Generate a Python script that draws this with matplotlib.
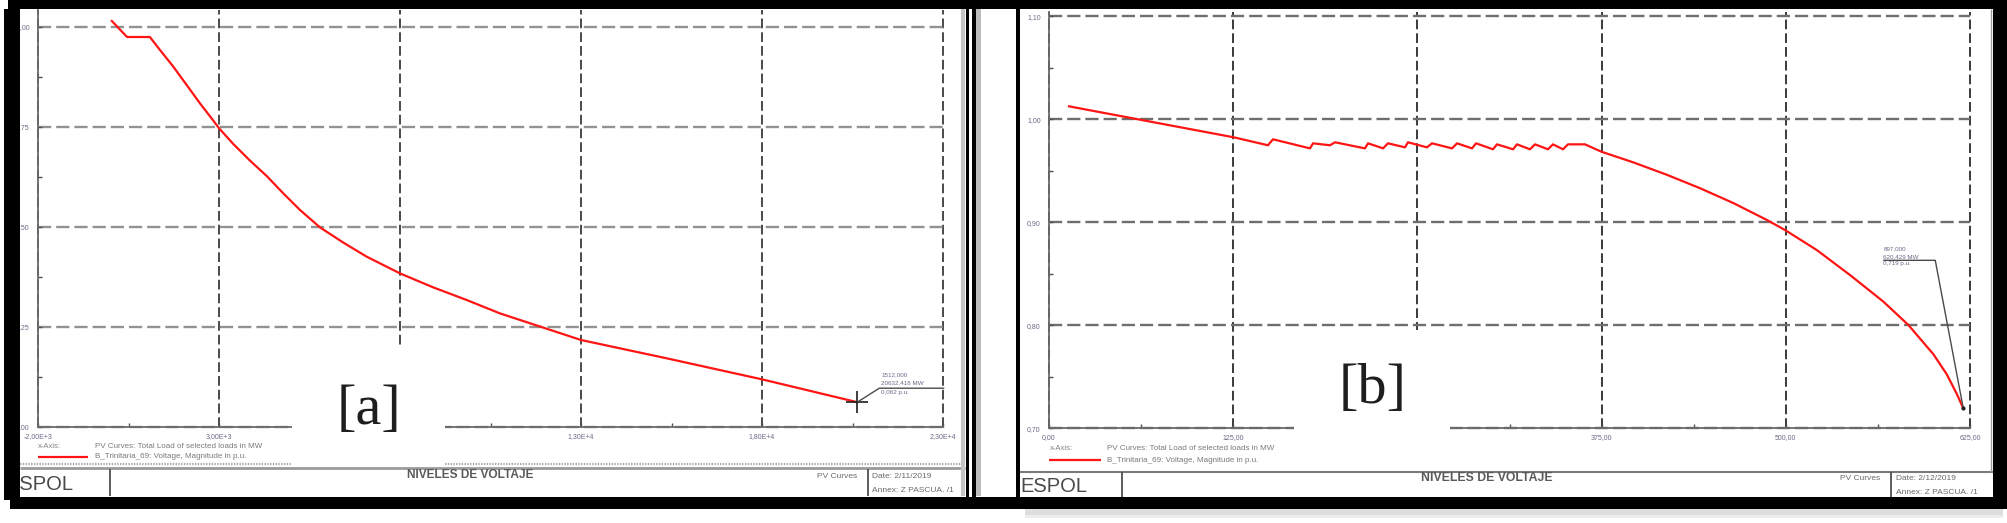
import matplotlib
matplotlib.use("Agg")
import matplotlib.pyplot as plt
from matplotlib.patches import Rectangle
from matplotlib.ticker import FixedLocator

plt.rcParams['font.family'] = ['Liberation Sans', 'DejaVu Sans']
plt.rcParams['lines.scale_dashes'] = False

W, H = 2007, 523

# ---------------- data ----------------
# Panel [a]: PV curve, total load (MW) vs voltage (p.u.)
load_a = [40, 460, 1090, 1370, 1738, 2107, 2475, 2843, 3000, 3395, 3856, 4317,
          4777, 5238, 5790, 6434, 7080, 8000, 8920, 9842, 10762, 13000,
          15367, 18008, 20632.418]
volt_a = [1.015, 0.975, 0.975, 0.9425, 0.9008, 0.855, 0.809, 0.766, 0.747, 0.7075,
          0.666, 0.6275, 0.584, 0.5425, 0.499, 0.461, 0.4258, 0.384, 0.349, 0.3175,
          0.284, 0.2175, 0.1717, 0.119, 0.062]

# Panel [b]
load_b = [13.6, 125.5, 148.6, 152.0, 177.1, 179.2, 190.7, 194.1, 214.4, 216.5,
          226.7, 230.0, 241.6, 243.6, 256.5, 259.9, 273.5, 276.9, 287.1, 289.8,
          301.3, 304.0, 314.9, 317.6, 326.4, 329.8, 338.6, 342.0, 348.8, 352.2,
          363.7, 375.0, 396.5, 419.2, 441.8, 464.4, 487.0, 499.5, 521.0, 543.6,
          566.2, 583.2, 600.1, 609.2, 616.0, 620.429]
volt_b = [1.0126, 0.9825, 0.9748, 0.9806, 0.9718, 0.9767, 0.9748, 0.9777, 0.9718, 0.9767,
          0.9718, 0.9767, 0.9728, 0.9777, 0.9728, 0.9767, 0.9718, 0.9767, 0.9718, 0.9767,
          0.9709, 0.9757, 0.9709, 0.9757, 0.9709, 0.9757, 0.9709, 0.9757, 0.9709, 0.9757,
          0.9757, 0.9685, 0.9582, 0.9462, 0.9331, 0.9187, 0.9024, 0.8925, 0.8731, 0.8488,
          0.8230, 0.8003, 0.7720, 0.7525, 0.7335, 0.7194]

xticks_a = [-2000, 3000, 8000, 13000, 18000, 23000]
xlabels_a = ['-2,00E+3', '3,00E+3', '8,00E+3', '1,30E+4', '1,80E+4', '2,30E+4']
yticks_a = [0.0, 0.25, 0.50, 0.75, 1.00]
ylabels_a = ['0,00', '0,25', '0,50', '0,75', '1,00']

xticks_b = [0, 125, 250, 375, 500, 625]
xlabels_b = ['0,00', '125,00', '250,00', '375,00', '500,00', '625,00']
yticks_b = [0.70, 0.80, 0.90, 1.00, 1.10]
ylabels_b = ['0,70', '0,80', '0,90', '1,00', '1,10']

annot_a = ['1512,000', '20632,418 MW', '0,062 p.u.']
annot_b = ['897,000', '620,429 MW', '0,719 p.u.']

legend_x = 'PV Curves: Total Load of selected loads in MW'
legend_y = 'B_Trinitaria_69: Voltage, Magnitude in p.u.'

# ---------------- figure ----------------
fig = plt.figure(figsize=(W / 100, H / 100), dpi=100)
fig.patch.set_facecolor('white')


def add_px_axes(l, t, r, b):
    return fig.add_axes([l / W, 1 - b / H, (r - l) / W, (b - t) / H])


def mids(t):
    return [(p + q) / 2 for p, q in zip(t[:-1], t[1:])]


def style(ax, xt, xl, yt, yl, xlim, ylim, hcol, vcol):
    ax.set_xlim(*xlim)
    ax.set_ylim(*ylim)
    ax.set_xticks(xt)
    ax.set_xticklabels(xl)
    ax.set_yticks(yt)
    ax.set_yticklabels(yl)
    ax.xaxis.set_minor_locator(FixedLocator(mids(xt)))
    ax.yaxis.set_minor_locator(FixedLocator(mids(yt)))
    for s in ['top', 'right']:
        ax.spines[s].set_visible(False)
    for s in ['left', 'bottom']:
        ax.spines[s].set_color('#6a6a6a')
        ax.spines[s].set_linewidth(1.3)
    ax.tick_params(which='both', direction='in', color='#505050', width=1)
    ax.tick_params(which='major', length=3, labelsize=5, labelcolor='#6a6a88')
    ax.tick_params(which='minor', length=3)
    ax.tick_params(axis='x', pad=4)
    ax.tick_params(axis='y', pad=6)
    ax.yaxis.grid(True, which='major', color=hcol, lw=1.7, linestyle=(0, (9.5, 3.6)))
    ax.xaxis.grid(True, which='major', color=vcol, lw=1.4, linestyle=(0, (7, 2.9)))
    ax.set_axisbelow(True)
    for gl in ax.get_xgridlines() + ax.get_ygridlines():
        gl.set_clip_on(False)


ax_a = add_px_axes(38, 10, 943, 427)
style(ax_a, xticks_a, xlabels_a, yticks_a, ylabels_a, (-2000, 23000), (0, 1.0425),
      '#929292', '#4a4a4a')
ax_a.plot(load_a, volt_a, color='#ff1414', lw=1.6, solid_joinstyle='round', zorder=3)

ax_b = add_px_axes(1049, 12, 1970, 428.3)
style(ax_b, xticks_b, xlabels_b, yticks_b, ylabels_b, (0, 625), (0.70, 1.1042),
      '#6e6e6e', '#3a3a3a')
ax_b.plot(load_b, volt_b, color='#ff1414', lw=1.6, solid_joinstyle='round', zorder=3)

# ---------------- overlay (pixel coordinates, y downward) ----------------
ov = fig.add_axes([0, 0, 1, 1], zorder=10)
ov.set_xlim(0, W)
ov.set_ylim(H, 0)
ov.axis('off')
ov.patch.set_alpha(0)


def rect(x0, y0, x1, y1, color, z=1, alpha=1.0):
    ov.add_patch(Rectangle((x0, y0), x1 - x0, y1 - y0, facecolor=color,
                           edgecolor='none', zorder=z, alpha=alpha))


def line(xs, ys, color='#606060', lw=1.0, ls='-', z=2):
    ov.plot(xs, ys, color=color, lw=lw, ls=ls, zorder=z, solid_capstyle='butt')


def txt(x, y, s, size=6, color='#666666', ha='left', va='center', **kw):
    ov.text(x, y, s, fontsize=size, color=color, ha=ha, va=va, zorder=3, **kw)


def data_to_px(ax, x, y):
    X, Y = ax.transData.transform((x, y))
    return X, H - Y


# white boxes behind panel labels
rect(292, 345, 445, 465, 'white', z=1)
rect(1294, 330, 1450, 443, 'white', z=1)
txt(369, 410, '[a]', size=42, color='#1e1e1e', ha='center',
    family=['Liberation Serif', 'DejaVu Serif'])
txt(1373, 389, '[b]', size=42, color='#1e1e1e', ha='center',
    family=['Liberation Serif', 'DejaVu Serif'])

# legends
txt(38, 447, 'x-Axis:', size=5.5, color='#858585')
txt(95, 447, legend_x, size=5.8, color='#7a7a7a')
line([38, 88], [457, 457], color='#ff1414', lw=1.6)
txt(95, 457, legend_y, size=5.8, color='#7a7a7a')

txt(1050, 449, 'x-Axis:', size=5.5, color='#858585')
txt(1107, 449, legend_x, size=5.8, color='#7a7a7a')
line([1049, 1101], [460, 460], color='#ff1414', lw=1.6)
txt(1107, 460, legend_y, size=5.8, color='#7a7a7a')

# annotation panel a
px, py = data_to_px(ax_a, load_a[-1], volt_a[-1])
ov.plot([px], [py], marker='+', ms=16, mew=1.2, color='#1e1e1e', zorder=4)
line([px, px + 22, px + 87], [py, py - 14, py - 14], color='#4a4a4a', lw=1.0, z=4)
txt(px + 24, py - 27, annot_a[0], size=4.5, color='#6a6a88')
txt(px + 24, py - 19, annot_a[1], size=4.5, color='#6a6a88')
txt(px + 24, py - 10, annot_a[2], size=4.5, color='#6a6a88')

# annotation panel b
qx, qy = data_to_px(ax_b, load_b[-1], volt_b[-1])
line([qx, qx - 28, qx - 80], [qy, qy - 148, qy - 148], color='#4a4a4a', lw=1.0, z=4)
ov.plot([qx], [qy], marker='o', ms=2, color='#1e1e1e', zorder=4)
txt(qx - 80, qy - 160, annot_b[0], size=4.5, color='#6a6a88')
txt(qx - 80, qy - 152, annot_b[1], size=4.5, color='#6a6a88')
txt(qx - 80, qy - 145, annot_b[2], size=4.5, color='#6a6a88')

# title block panel a
line([20, 292], [463.5, 463.5], color='#a8a8a8', lw=1.6, ls=(0, (1, 1)))
line([445, 965], [463.5, 463.5], color='#a8a8a8', lw=1.6, ls=(0, (1, 1)))
line([20, 965], [468, 468], color='#9a9a9a', lw=2.0)
line([110, 110], [469, 496], color='#505050', lw=1.3)
txt(73, 484, 'ESPOL', size=14.5, color='#4a4a4a', ha='right')
txt(470, 475, 'NIVELES DE VOLTAJE', size=8.6, color='#5a5a5a', ha='center', weight='bold')
txt(817, 477, 'PV Curves', size=6, color='#6a6a6a')
line([868, 868], [469, 496], color='#505050', lw=1.3)
txt(872, 477, 'Date: 2/11/2019', size=6, color='#6a6a6a')
txt(872, 490, 'Annex: Z PASCUA. /1', size=6, color='#6a6a6a')

# title block panel b
line([1020, 1993], [472, 472], color='#7a7a7a', lw=1.5)
line([1122, 1122], [472, 497], color='#505050', lw=1.3)
txt(1020, 487, 'ESPOL', size=14.5, color='#4a4a4a')
txt(1487, 478, 'NIVELES DE VOLTAJE', size=8.8, color='#5a5a5a', ha='center', weight='bold')
txt(1840, 479, 'PV Curves', size=6, color='#6a6a6a')
line([1891, 1891], [472, 497], color='#505050', lw=1.3)
txt(1896, 479, 'Date: 2/12/2019', size=6, color='#6a6a6a')
txt(1896, 493, 'Annex: Z PASCUA. /1', size=6, color='#6a6a6a')

# inner borders
line([963, 963], [9, 496], color='#c4c4c4', lw=3, z=5)
line([1991, 1991], [9, 472], color='#9a9a9a', lw=1.0, z=5)

# black frames
rect(8, 0, 2007, 9, 'black', z=6)
rect(4, 9, 20, 500, 'black', z=6)
rect(966, 0, 969, 509, 'black', z=6)
rect(972, 0, 976, 509, 'black', z=6)
rect(976, 9, 981, 496, '#bcbcbc', z=6)
rect(981, 9, 1016, 496, 'white', z=6)
rect(1016, 0, 1020, 509, 'black', z=6)
rect(1993, 0, 2007, 509, 'black', z=6)
rect(10, 497, 2003, 509, 'black', z=6)
rect(1025, 509, 2003, 515, '#d0d0d0', z=6, alpha=0.7)
rect(1025, 515, 2003, 518, '#e6e6e6', z=6, alpha=0.7)

fig.savefig('out.png', dpi=100, facecolor='white')
